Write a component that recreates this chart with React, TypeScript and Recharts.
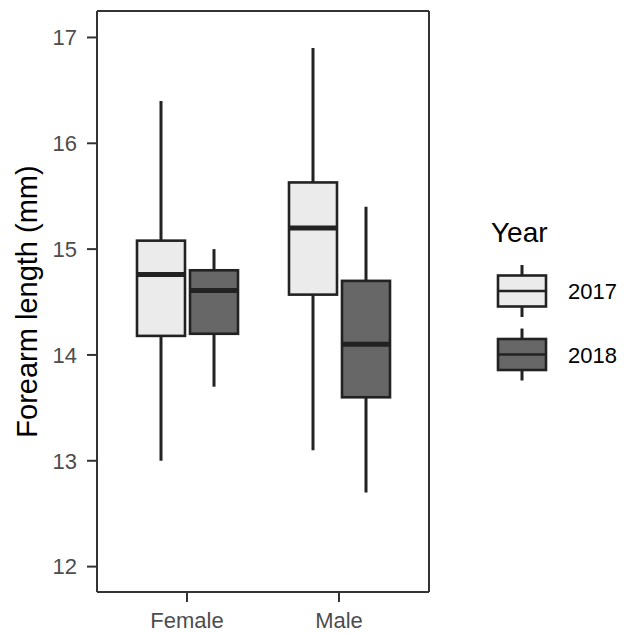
import { BarChart, Bar, XAxis, YAxis, Legend } from "recharts";

const SEXES = ["Female", "Male"];
const YEARS = ["2017", "2018"];
const FILLS = ["#EBEBEB", "#676767"];
// five-number summaries in SEXES order: [min, q1, median, q3, max]
const STATS_2017 = [
  [13.0, 14.18, 14.76, 15.08, 16.4],
  [13.1, 14.57, 15.2, 15.63, 16.9],
];
const STATS_2018 = [
  [13.7, 14.2, 14.61, 14.8, 15.0],
  [12.7, 13.6, 14.1, 14.7, 15.4],
];
const Y_TICKS = [12, 13, 14, 15, 16, 17];

const FONT = "'Liberation Sans', Arial, sans-serif";
const INK = "#222222";
const FRAME = "#333333";

const rows = SEXES.map((sex, i) => ({
  sex,
  s2017: STATS_2017[i],
  s2018: STATS_2018[i],
}));

const tickStyle = { fill: "#4D4D4D", fontSize: 22, fontFamily: FONT };

function BoxShape(props: any) {
  const { x, y, width, height, stats, fill } = props;
  const [min, q1, med, q3, max] = stats;
  const top = Math.min(y, y + height);
  const bottom = Math.max(y, y + height);
  const toY = (v: number) => top + ((max - v) / (max - min)) * (bottom - top);
  const cx = x + width / 2;
  return (
    <g>
      <line x1={cx} x2={cx} y1={toY(max)} y2={toY(min)} stroke={INK} strokeWidth={3} />
      <rect
        x={x}
        y={toY(q3)}
        width={width}
        height={toY(q1) - toY(q3)}
        fill={fill}
        stroke={INK}
        strokeWidth={2.6}
      />
      <line x1={x} x2={x + width} y1={toY(med)} y2={toY(med)} stroke={INK} strokeWidth={5} />
    </g>
  );
}

function YearLegend() {
  return (
    <svg width={149} height={200} style={{ display: "block" }}>
      <text x={11} y={42} fontSize={28} fontFamily={FONT} fill="#000">
        Year
      </text>
      {YEARS.map((yr, i) => {
        const cy = 91 + i * 63.5;
        return (
          <g key={yr}>
            <line x1={42} x2={42} y1={cy - 26} y2={cy + 26} stroke={INK} strokeWidth={3} />
            <rect
              x={18}
              y={cy - 15.5}
              width={48}
              height={31}
              fill={FILLS[i]}
              stroke={INK}
              strokeWidth={2.6}
            />
            <line x1={18} x2={66} y1={cy} y2={cy} stroke={INK} strokeWidth={2.6} />
            <text x={88} y={cy + 8} fontSize={22} fontFamily={FONT} fill="#000">
              {yr}
            </text>
          </g>
        );
      })}
    </svg>
  );
}

export default function App() {
  return (
    <div style={{ position: "absolute", left: 0, top: 0, width: 629, height: 634, background: "#fff" }}>
      <BarChart
        width={629}
        height={634}
        data={rows}
        margin={{ top: 10, right: 199, bottom: 0, left: 0 }}
        barSize={48}
        barGap={5}
      >
        <XAxis
          dataKey="sex"
          height={42}
          padding={{ left: 14, right: 14 }}
          tick={tickStyle}
          tickSize={10}
          tickMargin={10}
          tickLine={{ stroke: FRAME, strokeWidth: 2 }}
          axisLine={{ stroke: FRAME, strokeWidth: 2 }}
        />
        <XAxis
          xAxisId="top"
          dataKey="sex"
          orientation="top"
          height={1}
          tick={false}
          tickLine={false}
          axisLine={{ stroke: FRAME, strokeWidth: 2 }}
        />
        <YAxis
          width={97}
          domain={[11.76, 17.25]}
          ticks={Y_TICKS}
          allowDataOverflow
          tick={tickStyle}
          tickSize={10}
          tickMargin={10}
          tickLine={{ stroke: FRAME, strokeWidth: 2 }}
          axisLine={{ stroke: FRAME, strokeWidth: 2 }}
          label={{
            content: () => (
              <text
                x={36.5}
                y={301.5}
                transform="rotate(-90 36.5 301.5)"
                textAnchor="middle"
                fontSize={29}
                fontFamily={FONT}
                fill="#000"
              >
                Forearm length (mm)
              </text>
            ),
          }}
        />
        <YAxis
          yAxisId="right"
          orientation="right"
          width={1}
          domain={[0, 1]}
          tick={false}
          tickLine={false}
          axisLine={{ stroke: FRAME, strokeWidth: 2 }}
        />
        <Legend
          layout="vertical"
          align="center"
          verticalAlign="middle"
          wrapperStyle={{ left: 480, top: 200, width: 149, height: 200 }}
          content={() => <YearLegend />}
        />
        <Bar
          name={YEARS[0]}
          dataKey={(d: any) => [d.s2017[0], d.s2017[4]]}
          isAnimationActive={false}
          shape={(p: any) => <BoxShape {...p} stats={p.payload.s2017} fill={FILLS[0]} />}
        />
        <Bar
          name={YEARS[1]}
          dataKey={(d: any) => [d.s2018[0], d.s2018[4]]}
          isAnimationActive={false}
          shape={(p: any) => <BoxShape {...p} stats={p.payload.s2018} fill={FILLS[1]} />}
        />
      </BarChart>
    </div>
  );
}
